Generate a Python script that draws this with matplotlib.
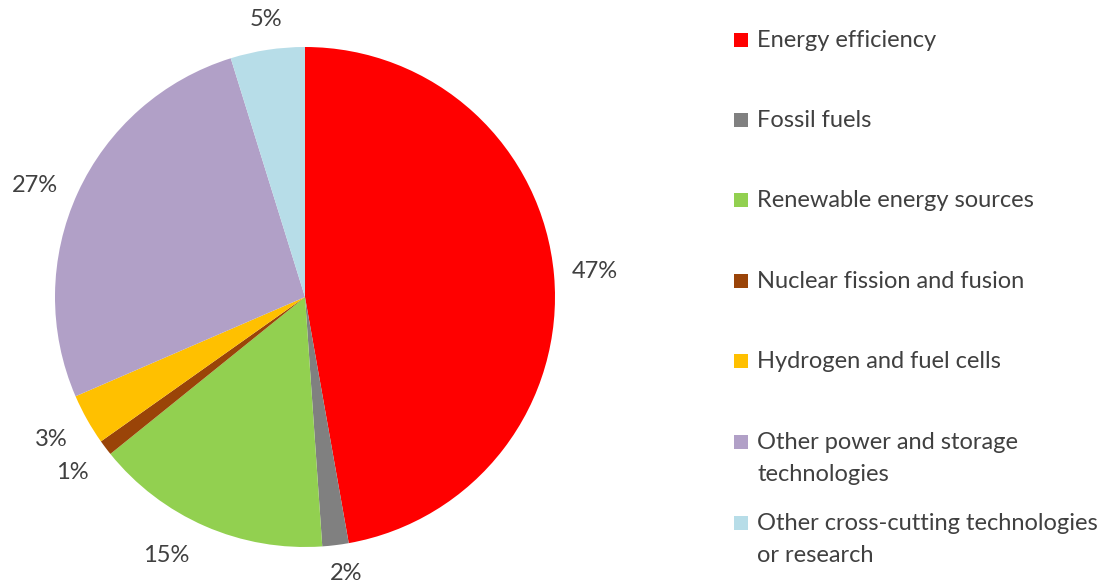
import matplotlib.pyplot as plt
from matplotlib.patches import Rectangle

categories = [
    "Energy efficiency",
    "Fossil fuels",
    "Renewable energy sources",
    "Nuclear fission and fusion",
    "Hydrogen and fuel cells",
    "Other power and storage\ntechnologies",
    "Other cross-cutting technologies\nor research",
]
shares = [47.2, 1.7, 15.3, 1.0, 3.3, 26.7, 4.8]
pct_labels = ["47%", "2%", "15%", "1%", "3%", "27%", "5%"]
colors = ["#FF0000", "#808080", "#92D050", "#9A4408", "#FFC000", "#B1A0C7", "#B7DDE8"]

# small nudges (axes units) to mimic the spreadsheet's best-fit label placement
label_nudge = [(0, 0), (0.024, 0.052), (-0.09, 0.035), (0, 0),
               (0, 0), (-0.02, -0.04), (0.02, -0.04)]

W, H = 1111, 585
TEXT = "#404040"
FS = 17
plt.rcParams["font.family"] = ["Lato", "DejaVu Sans"]

fig = plt.figure(figsize=(W / 100, H / 100), dpi=100)

cx, cy, r = 305, 297, 250
ax = fig.add_axes([(cx - r) / W, (H - cy - r) / H, 2 * r / W, 2 * r / H])
wedges, texts = ax.pie(
    shares, colors=colors, startangle=90, counterclock=False,
    labels=pct_labels, labeldistance=1.165,
    textprops=dict(fontsize=FS, color=TEXT),
    wedgeprops=dict(linewidth=0),
)
for t, (dx, dy) in zip(texts, label_nudge):
    t.set_ha("center")
    t.set_va("center")
    x, y = t.get_position()
    t.set_position((x + dx, y + dy))
ax.set_xlim(-1, 1)
ax.set_ylim(-1, 1)
ax.axis("off")

# legend drawn by hand so the swatch sits on the first text line
baselines = [47, 127, 207, 288, 368, 449, 530]
line_gap = 32
for name, col, base in zip(categories, colors, baselines):
    fig.add_artist(Rectangle((734 / W, 1 - base / H), 14 / W, 14 / H,
                             transform=fig.transFigure, color=col, lw=0))
    for i, line in enumerate(name.split("\n")):
        fig.text(757 / W, 1 - (base + i * line_gap) / H, line, fontsize=FS,
                 color=TEXT, va="baseline", ha="left")

fig.savefig("out.png", dpi=100)
